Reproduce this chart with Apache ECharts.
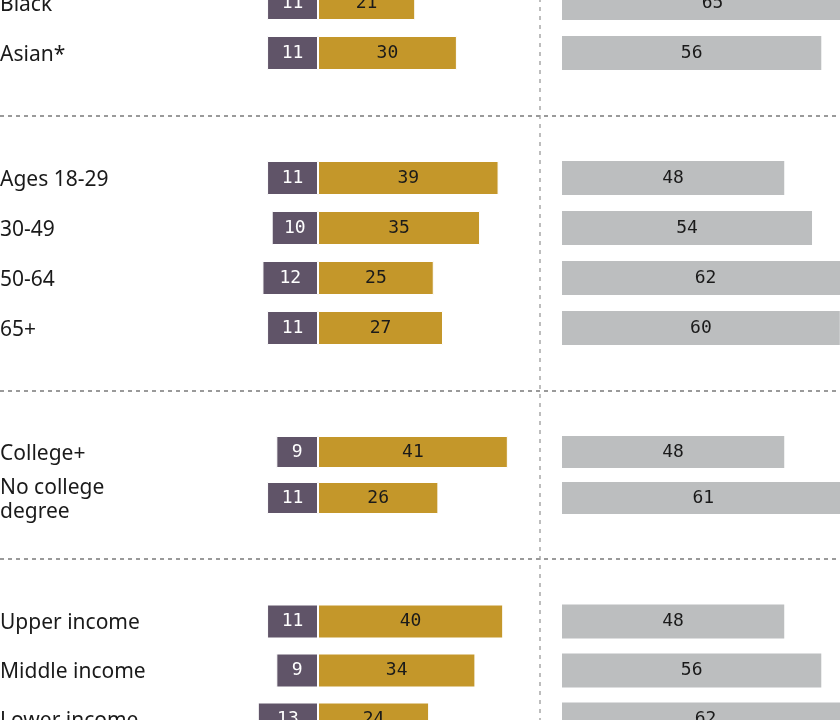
<!DOCTYPE html>
<html lang="en">
<head>
    <meta charset="UTF-8">
    <title>Chart</title>
    <style>
        html, body { margin: 0; padding: 0; background: #fff; }
        #main { width: 840px; height: 720px; }
    </style>
</head>
<body>
    <div id="main"></div>
    <script src="https://cdn.jsdelivr.net/npm/echarts@6/dist/echarts.min.js"></script>
    <script>
    // groups of rows
    var raceCats = ['Black', 'Asian*'];
    var racePurple = [11, 11];
    var raceGold = [21, 30];
    var raceGray = [65, 56];

    var ageCats = ['Ages 18-29', '30-49', '50-64', '65+'];
    var agePurple = [11, 10, 12, 11];
    var ageGold = [39, 35, 25, 27];
    var ageGray = [48, 54, 62, 60];

    var eduCats = ['College+', 'No college\ndegree'];
    var eduPurple = [9, 11];
    var eduGold = [41, 26];
    var eduGray = [48, 61];

    var incCats = ['Upper income', 'Middle income', 'Lower income'];
    var incPurple = [11, 9, 13];
    var incGold = [40, 34, 24];
    var incGray = [48, 56, 62];

    var groups = [
        { cats: raceCats, purple: racePurple, gold: raceGold, gray: raceGray, top: -22, band: 50, bar: 34 },
        { cats: ageCats, purple: agePurple, gold: ageGold, gray: ageGray, top: 153, band: 50, bar: 34 },
        { cats: eduCats, purple: eduPurple, gold: eduGold, gray: eduGray, top: 429, band: 46, bar: 32 },
        { cats: incCats, purple: incPurple, gold: incGold, gray: incGray, top: 597, band: 49, bar: 34 }
    ];

    var PX = 4.63; // pixels per point
    var PURPLE = '#605468', GOLD = '#c4972a', GRAY = '#bcbebf';
    var labelFont = "'DejaVu Sans Mono', monospace";

    var grids = [], xAxes = [], yAxes = [], series = [];

    groups.forEach(function(g, i) {
        var h = g.band * g.cats.length;
        // left panel
        grids.push({ left: 318 - 15 * PX, top: g.top, width: 63 * PX, height: h, outerBoundsMode: 'none' });
        // right panel, runs past the right edge
        grids.push({ left: 562, top: g.top, width: 100 * PX, height: h, outerBoundsMode: 'none' });

        var li = i * 2, ri = i * 2 + 1;
        [li, ri].forEach(function(k) {
            xAxes.push({
                type: 'value', gridIndex: k,
                min: k === li ? -15 : 0,
                max: k === li ? 48 : 100,
                show: false
            });
        });
        yAxes.push({
            type: 'category', gridIndex: li, data: g.cats, inverse: true,
            axisLine: { show: false }, axisTick: { show: false },
            axisLabel: {
                align: 'left', margin: 318 - 15 * PX,
                formatter: function(v) {
                    return v.split('\n').map(function(s) { return '{t|' + s + '}'; }).join('\n');
                },
                rich: {
                    t: {
                        fontFamily: "'Noto Sans', sans-serif", fontSize: 21,
                        color: '#1a1a1a', lineHeight: 24, padding: [4, 0, 0, 0]
                    }
                }
            }
        });
        yAxes.push({
            type: 'category', gridIndex: ri, data: g.cats, inverse: true, show: false
        });

        var valLabel = function(col) {
            return {
                show: true, position: 'inside', color: col,
                fontFamily: labelFont, fontSize: 18
            };
        };

        var pl = valLabel('#fff');
        pl.formatter = function(p) { return Math.abs(p.value); };
        series.push({
            type: 'bar', xAxisIndex: li, yAxisIndex: li, stack: 's' + i,
            data: g.purple.map(function(v) { return -v; }),
            barWidth: g.bar,
            itemStyle: { color: PURPLE, borderColor: '#fff', borderWidth: 1 },
            label: pl
        });
        series.push({
            type: 'bar', xAxisIndex: li, yAxisIndex: li, stack: 's' + i,
            data: g.gold, barWidth: g.bar,
            itemStyle: { color: GOLD, borderColor: '#fff', borderWidth: 1 },
            label: valLabel('#1a1a1a')
        });
        series.push({
            type: 'bar', xAxisIndex: ri, yAxisIndex: ri,
            data: g.gray, barWidth: g.bar,
            itemStyle: { color: GRAY },
            label: valLabel('#1a1a1a')
        });
    });

    // dotted separators
    var graphic = [];
    [116, 391, 559].forEach(function(y) {
        graphic.push({
            type: 'line', z: 10,
            shape: { x1: 0, y1: y, x2: 840, y2: y },
            style: { stroke: '#9a9a9a', lineWidth: 2, lineDash: [4, 4] }
        });
    });
    graphic.push({
        type: 'line', z: 9,
        shape: { x1: 540, y1: -2, x2: 540, y2: 722 },
        style: { stroke: '#bdbdbd', lineWidth: 2, lineDash: [4, 5] }
    });

    var myChart = echarts.init(document.getElementById('main'));
    myChart.setOption({
        animation: false,
        grid: grids,
        xAxis: xAxes,
        yAxis: yAxes,
        series: series,
        graphic: graphic
    });
    </script>
</body>
</html>
